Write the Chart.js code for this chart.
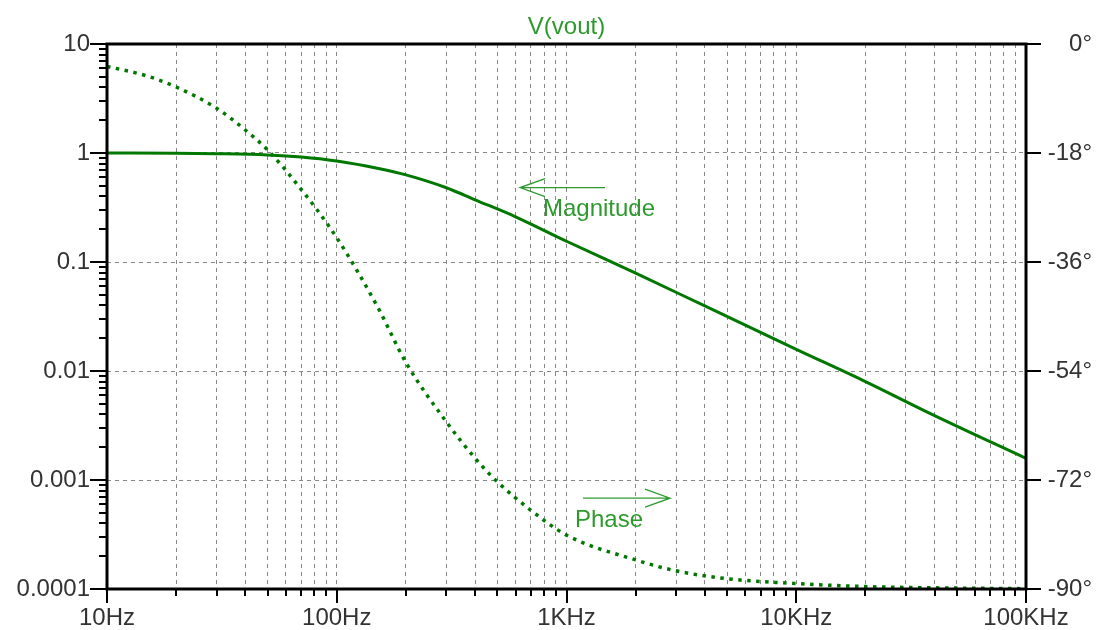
<!DOCTYPE html>
<html>
<head>
<meta charset="utf-8">
<title>V(vout)</title>
<script src="https://cdn.jsdelivr.net/npm/chart.js@4.4.0/dist/chart.umd.min.js"></script>
<style>
  html, body { margin: 0; padding: 0; background: #fff; }
</style>
</head>
<body>
<canvas id="bode" width="1098" height="630"></canvas>
<script>
// magnitude (left axis, log)
const magFreqs = [10, 20, 30, 50, 70, 100, 150, 200, 300, 400, 600, 1000, 2000, 4000, 10000, 20000, 40000, 100000];
const magValues = [1.0, 0.995, 0.985, 0.96, 0.92, 0.845, 0.725, 0.63, 0.48, 0.372, 0.26, 0.155, 0.079, 0.0395, 0.0158, 0.0080, 0.0039, 0.00158];

// phase in degrees (right axis)
const phaseFreqs = [10, 15, 20, 30, 40, 50, 70, 100, 150, 200, 300, 400, 500, 700, 1000, 2000, 3000, 5000, 10000, 20000, 50000, 100000];
const phaseValues = [-3.7, -5.3, -7.1, -10.6, -14.2, -17.5, -24.0, -32.0, -43.3, -52.6, -62.4, -68.4, -72.3, -77.0, -81.1, -85.2, -87.0, -88.3, -89.1, -89.6, -89.85, -89.95];

// axis ticks
const xDecades = [10, 100, 1000, 10000, 100000];
const xTickLabels = ['10Hz', '100Hz', '1KHz', '10KHz', '100KHz'];
const minorSteps = [2, 3, 4, 5, 6, 7, 8, 9];
const yLeftTicks = [10, 1, 0.1, 0.01, 0.001, 0.0001];
const yLeftLabels = ['10', '1', '0.1', '0.01', '0.001', '0.0001'];
const yRightTicks = [0, -18, -36, -54, -72, -90];
const yRightLabels = ['0°', '-18°', '-36°', '-54°', '-72°', '-90°'];

// text labels with arrows (in data units)
const magNote = { text: 'Magnitude', tipHz: 628, tailHz: 1471, arrowMag: 0.482, textHz: 790, textMag: 0.264 };
const phaseNote = { text: 'Phase', tipHz: 2822, tailHz: 1180, arrowDeg: -75, textHz: 1089, textDeg: -79.8 };

const FONT = 'Liberation Sans, Arial, sans-serif';
const LINE = '#007800';
const NOTE = '#2e9a2e';

// every 1..9 value per decade for the vertical grid
const xGrid = [];
xDecades.forEach((d, i) => {
  xGrid.push(d);
  if (i < xDecades.length - 1) minorSteps.forEach(m => xGrid.push(d * m));
});

const frame = {
  id: 'frame',
  afterDraw(chart) {
    const { ctx, chartArea: a, scales } = chart;
    const x = scales.x, y = scales.y, y2 = scales.y2;
    ctx.save();
    ctx.strokeStyle = '#000';
    ctx.lineWidth = 2;
    ctx.beginPath();
    // bottom ticks
    xGrid.forEach(v => {
      const px = Math.round(x.getPixelForValue(v));
      const len = xDecades.includes(v) ? 14 : 7;
      ctx.moveTo(px, a.bottom);
      ctx.lineTo(px, a.bottom + len);
    });
    // left ticks
    yLeftTicks.forEach(v => {
      const py = Math.round(y.getPixelForValue(v));
      ctx.moveTo(a.left - 17, py);
      ctx.lineTo(a.left, py);
      if (v < 10) {
        minorSteps.forEach(m => {
          const pm = Math.round(y.getPixelForValue(v * m));
          ctx.moveTo(a.left - 8, pm);
          ctx.lineTo(a.left, pm);
        });
      }
    });
    // right ticks
    yRightTicks.forEach(v => {
      const py = Math.round(y2.getPixelForValue(v));
      ctx.moveTo(a.right, py);
      ctx.lineTo(a.right + 15, py);
    });
    ctx.stroke();

    ctx.lineWidth = 3;
    ctx.strokeRect(a.left, a.top, a.right - a.left, a.bottom - a.top);

    // notes
    ctx.strokeStyle = NOTE;
    ctx.fillStyle = NOTE;
    ctx.lineWidth = 1.3;
    ctx.font = '24px ' + FONT;
    ctx.textBaseline = 'alphabetic';
    ctx.textAlign = 'left';

    const arrow = (x0, x1, py) => {
      const dir = x1 > x0 ? 1 : -1;
      ctx.beginPath();
      ctx.moveTo(x0, py);
      ctx.lineTo(x1, py);
      ctx.moveTo(x1 - dir * 25, py - 9);
      ctx.lineTo(x1, py);
      ctx.lineTo(x1 - dir * 25, py + 9);
      ctx.stroke();
    };

    const my = y.getPixelForValue(magNote.arrowMag);
    arrow(x.getPixelForValue(magNote.tailHz), x.getPixelForValue(magNote.tipHz), my);
    ctx.fillText(magNote.text, x.getPixelForValue(magNote.textHz), y.getPixelForValue(magNote.textMag));

    const py = y2.getPixelForValue(phaseNote.arrowDeg);
    arrow(x.getPixelForValue(phaseNote.tailHz), x.getPixelForValue(phaseNote.tipHz), py);
    ctx.fillText(phaseNote.text, x.getPixelForValue(phaseNote.textHz), y2.getPixelForValue(phaseNote.textDeg));
    ctx.restore();
  }
};

new Chart(document.getElementById('bode'), {
  type: 'line',
  data: {
    datasets: [
      {
        label: 'Magnitude',
        data: magFreqs.map((f, i) => ({ x: f, y: magValues[i] })),
        yAxisID: 'y',
        borderColor: LINE,
        borderWidth: 3,
        pointRadius: 0,
        cubicInterpolationMode: 'monotone',
        fill: false
      },
      {
        label: 'Phase',
        data: phaseFreqs.map((f, i) => ({ x: f, y: phaseValues[i] })),
        yAxisID: 'y2',
        borderColor: LINE,
        borderWidth: 3.5,
        borderDash: [3.5, 5.5],
        pointRadius: 0,
        cubicInterpolationMode: 'monotone',
        fill: false
      }
    ]
  },
  options: {
    responsive: false,
    animation: false,
    layout: { padding: { left: 0, right: 6, top: 0, bottom: 0 } },
    plugins: {
      legend: { display: false },
      tooltip: { enabled: false },
      title: {
        display: true,
        text: 'V(vout)',
        color: NOTE,
        fullSize: false,
        font: { family: FONT, size: 24, weight: 'normal' },
        padding: { top: 13, bottom: 2.2 }
      }
    },
    scales: {
      x: {
        type: 'logarithmic',
        position: 'bottom',
        min: 10,
        max: 100000,
        afterBuildTicks: s => { s.ticks = xGrid.map(v => ({ value: v })); },
        afterFit: s => { s.height = 41; },
        ticks: {
          autoSkip: false,
          maxRotation: 0,
          minRotation: 0,
          padding: 15,
          color: '#333',
          font: { family: FONT, size: 24 },
          callback: v => {
            const i = xDecades.indexOf(v);
            return i < 0 ? '' : xTickLabels[i];
          }
        },
        grid: { color: '#888', lineWidth: 1, drawTicks: false },
        border: { display: false, dash: [4, 4] }
      },
      y: {
        type: 'logarithmic',
        position: 'left',
        min: 0.0001,
        max: 10,
        afterBuildTicks: s => { s.ticks = yLeftTicks.map(v => ({ value: v })); },
        afterFit: s => { s.width = 107; },
        ticks: {
          padding: 17,
          color: '#333',
          font: { family: FONT, size: 24 },
          callback: v => {
            const i = yLeftTicks.indexOf(v);
            return i < 0 ? '' : yLeftLabels[i];
          }
        },
        grid: { color: '#888', lineWidth: 1, drawTicks: false },
        border: { display: false, dash: [4, 4] }
      },
      y2: {
        type: 'linear',
        position: 'right',
        min: -90,
        max: 0,
        afterBuildTicks: s => { s.ticks = yRightTicks.map(v => ({ value: v })); },
        afterFit: s => { s.width = 66; },
        ticks: {
          crossAlign: 'far',
          color: '#333',
          font: { family: FONT, size: 24 },
          callback: v => {
            const i = yRightTicks.indexOf(v);
            return i < 0 ? '' : yRightLabels[i];
          }
        },
        grid: { drawOnChartArea: false, drawTicks: false },
        border: { display: false }
      }
    }
  },
  plugins: [frame]
});
</script>
</body>
</html>
